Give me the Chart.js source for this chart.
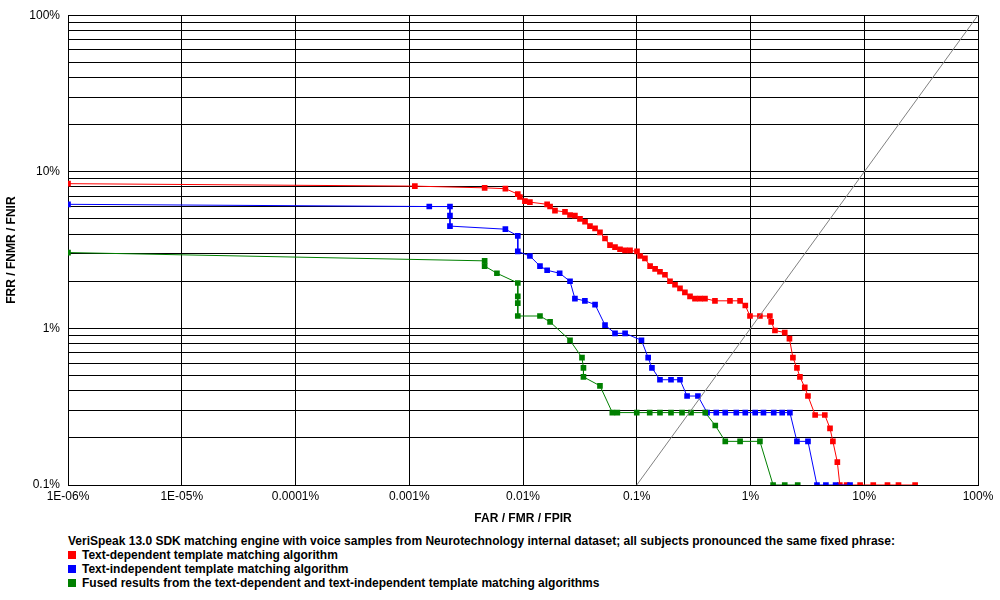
<!DOCTYPE html>
<html>
<head>
<meta charset="utf-8">
<script src="https://cdn.jsdelivr.net/npm/chart.js@4"></script>
<style>
  body { margin: 0; background: #fff; font-family: "Liberation Sans", Arial, sans-serif; }
  #wrap { width: 1000px; height: 534px; position: relative; }
  #legend { margin-left: 68px; font-size: 12px; font-weight: bold; color: #000; line-height: 14px; }
  #legend .sw { display: inline-block; width: 8px; height: 8px; margin-right: 6px; vertical-align: 0px; }
</style>
</head>
<body>
<div id="wrap"><canvas id="chart" width="1000" height="530"></canvas></div>
<div id="legend">
  <div>VeriSpeak 13.0 SDK matching engine with voice samples from Neurotechnology internal dataset; all subjects pronounced the same fixed phrase:</div>
  <div><span class="sw" style="background:#ff0000"></span>Text-dependent template matching algorithm</div>
  <div><span class="sw" style="background:#0000ff"></span>Text-independent template matching algorithm</div>
  <div><span class="sw" style="background:#008000"></span>Fused results from the text-dependent and text-independent template matching algorithms</div>
</div>
<script>
// FAR (%) / FRR (%) pairs
const textDependent = [
  [1e-6, 8.4], [0.00112, 8.1], [0.0046, 7.9], [0.0070, 7.8], [0.0090, 7.2], [0.0094, 6.9],
  [0.0104, 6.5], [0.0115, 6.4], [0.0163, 6.2], [0.0173, 6.0], [0.0191, 5.65], [0.0234, 5.55],
  [0.0259, 5.3], [0.0286, 5.25], [0.0317, 5.0], [0.0351, 4.8], [0.0388, 4.5], [0.043, 4.35],
  [0.0475, 4.1], [0.0526, 3.75], [0.0582, 3.4], [0.0644, 3.3], [0.0713, 3.2], [0.0789, 3.15],
  [0.0873, 3.15], [0.1005, 3.1], [0.107, 2.9], [0.118, 2.8], [0.131, 2.5], [0.145, 2.4],
  [0.16, 2.3], [0.177, 2.2], [0.196, 2.0], [0.217, 1.9], [0.24, 1.8], [0.265, 1.7],
  [0.294, 1.6], [0.325, 1.55], [0.36, 1.55], [0.398, 1.55], [0.487, 1.5], [0.66, 1.5],
  [0.81, 1.5], [0.9, 1.4], [0.99, 1.2], [1.21, 1.2], [1.48, 1.2], [1.52, 1.1], [1.64, 0.97],
  [2.0, 0.94], [2.2, 0.86], [2.36, 0.65], [2.56, 0.56], [2.72, 0.49], [3.0, 0.42], [3.2, 0.37],
  [3.7, 0.28], [4.5, 0.28], [5.0, 0.23], [5.3, 0.19], [5.8, 0.14], [6.1, 0.1], [7, 0.1],
  [9.2, 0.1], [12, 0.1], [16, 0.1], [20, 0.1], [28, 0.1]
];
const textIndependent = [
  [1e-6, 6.2], [0.0015, 6.0], [0.00228, 6.0], [0.00228, 5.25], [0.00228, 4.5], [0.0070, 4.3],
  [0.009, 3.9], [0.009, 3.1], [0.0115, 2.9], [0.0141, 2.5], [0.0163, 2.35], [0.021, 2.25],
  [0.0259, 2.0], [0.0286, 1.55], [0.035, 1.5], [0.043, 1.42], [0.0526, 1.05], [0.0644, 0.93],
  [0.079, 0.93], [0.11, 0.84], [0.126, 0.65], [0.136, 0.56], [0.16, 0.47], [0.2, 0.47],
  [0.24, 0.47], [0.277, 0.37], [0.345, 0.37], [0.415, 0.29], [0.5, 0.29], [0.6, 0.29],
  [0.75, 0.29], [0.9, 0.29], [1.1, 0.29], [1.3, 0.29], [1.6, 0.29], [1.9, 0.29], [2.22, 0.29],
  [2.56, 0.19], [3.2, 0.19], [3.84, 0.1], [4.6, 0.1], [5.6, 0.1], [7.5, 0.1]
];
const fused = [
  [1e-6, 3.05], [0.0046, 2.7], [0.0046, 2.5], [0.0059, 2.25], [0.009, 1.95], [0.009, 1.6],
  [0.009, 1.45], [0.009, 1.2], [0.0141, 1.2], [0.0173, 1.1], [0.0259, 0.84], [0.033, 0.65],
  [0.034, 0.56], [0.034, 0.49], [0.0475, 0.43], [0.061, 0.29], [0.0675, 0.29], [0.1, 0.29],
  [0.13, 0.29], [0.16, 0.29], [0.2, 0.29], [0.25, 0.29], [0.3, 0.29], [0.4, 0.29],
  [0.49, 0.24], [0.6, 0.19], [0.81, 0.19], [1.21, 0.19], [1.58, 0.1], [2.0, 0.1], [2.6, 0.1]
];
const equalErrorLine = [[0.1, 0.1], [100, 100]];
const xTicks = [1e-6, 1e-5, 1e-4, 1e-3, 0.01, 0.1, 1, 10, 100];
const xTickLabels = ['1E-06%', '1E-05%', '0.0001%', '0.001%', '0.01%', '0.1%', '1%', '10%', '100%'];
const yMajor = [0.1, 1, 10, 100];
const yTickLabels = ['0.1%', '1%', '10%', '100%'];

function toPoints(arr) {
  return arr.map(p => ({ x: p[0], y: p[1] }));
}

function series(label, arr, color) {
  return {
    label: label,
    data: toPoints(arr),
    borderColor: color,
    backgroundColor: color,
    borderWidth: 1,
    pointStyle: 'rect',
    pointRadius: 4,
    pointBorderWidth: 0,
    tension: 0
  };
}

const yAll = [];
for (let d = 0.1; d < 100; d *= 10) {
  for (let k = 1; k <= 9; k++) yAll.push(+(d * k).toPrecision(3));
}
yAll.push(100);

const font = { family: '"Liberation Sans", Arial, sans-serif', size: 12 };

new Chart(document.getElementById('chart').getContext('2d'), {
  type: 'line',
  data: {
    datasets: [
      {
        label: 'EER',
        data: toPoints(equalErrorLine),
        borderColor: '#808080',
        borderWidth: 1,
        pointRadius: 0
      },
      series('Fused results', fused, '#008000'),
      series('Text-independent', textIndependent, '#0000ff'),
      series('Text-dependent', textDependent, '#ff0000')
    ]
  },
  options: {
    responsive: false,
    animation: false,
    layout: { padding: { top: 15, right: 22, left: 0, bottom: 0 } },
    plugins: { legend: { display: false }, tooltip: { enabled: false } },
    scales: {
      x: {
        type: 'logarithmic',
        min: 1e-6,
        max: 100,
        afterBuildTicks: s => { s.ticks = xTicks.map(v => ({ value: v })); },
        afterFit: s => { s.height = 45; },
        ticks: {
          color: '#000',
          font: font,
          maxRotation: 0,
          autoSkip: false,
          padding: 4,
          callback: (v) => xTickLabels[xTicks.findIndex(t => Math.abs(Math.log10(t) - Math.log10(v)) < 1e-6)]
        },
        grid: { color: '#000', lineWidth: 1, drawTicks: false },
        border: { color: '#000' },
        title: { display: true, text: 'FAR / FMR / FPIR', color: '#000', font: { ...font, weight: 'bold' }, padding: { top: 4 } }
      },
      y: {
        type: 'logarithmic',
        min: 0.1,
        max: 100,
        afterBuildTicks: s => { s.ticks = yAll.map(v => ({ value: v })); },
        afterFit: s => { s.width = 68; },
        ticks: {
          color: '#000',
          font: font,
          autoSkip: false,
          padding: 8,
          callback: (v) => {
            const i = yMajor.findIndex(t => Math.abs(Math.log10(t) - Math.log10(v)) < 1e-6);
            return i >= 0 ? yTickLabels[i] : '';
          }
        },
        grid: { color: '#000', lineWidth: 1, drawTicks: false },
        border: { color: '#000' },
        title: { display: true, text: 'FRR / FNMR / FNIR', color: '#000', font: { ...font, weight: 'bold' } }
      }
    }
  }
});
</script>
</body>
</html>
